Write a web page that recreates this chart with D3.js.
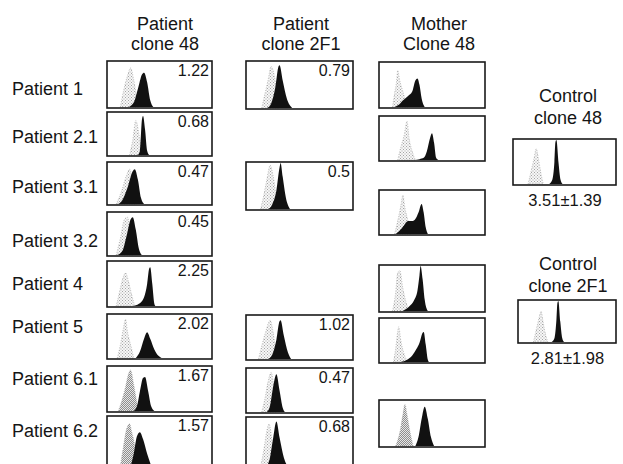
<!DOCTYPE html>
<html>
<head>
<meta charset="utf-8">
<script src="https://cdn.jsdelivr.net/npm/d3@7"></script>
<style>
  body { margin: 0; background: #fff; }
  svg { display: block; }
  text { font-family: "Liberation Sans", Arial, sans-serif; fill: #151515; }
</style>
</head>
<body>
<div id="chart"></div>
<script>
// row labels and column headers
const rowLabels = ["Patient 1", "Patient 2.1", "Patient 3.1", "Patient 3.2",
                   "Patient 4", "Patient 5", "Patient 6.1", "Patient 6.2"];
const columnHeaders = [["Patient", "clone 48"], ["Patient", "clone 2F1"], ["Mother", "Clone 48"]];
const controlHeaders = [["Control", "clone 48"], ["Control", "clone 2F1"]];

// ratio printed in each box (null = no box)
const clone48Ratios = ["1.22", "0.68", "0.47", "0.45", "2.25", "2.02", "1.67", "1.57"];
const clone2F1Ratios = ["0.79", null, "0.5", null, null, "1.02", "0.47", "0.68"];
const controlStats = ["3.51\u00b11.39", "2.81\u00b11.98"];

// histograms: [channel (0-100), relative count (0-1)]
// gray = isotype control, black = stained
const clone48Gray = [
  [[12,0],[15,0.35],[19,0.7],[22,0.87],[25,0.6],[28,0.2],[31,0]],
  [[21,0],[24,0.35],[27,0.82],[30,0.5],[33,0]],
  [[8,0],[13,0.3],[18,0.7],[21,0.85],[24,0.5],[28,0]],
  [[8,0],[12,0.4],[16,0.85],[19,0.9],[22,0.4],[25,0]],
  [[8,0],[11,0.3],[14,0.6],[17,0.75],[20,0.55],[23,0.25],[26,0]],
  [[9,0],[12,0.3],[15,0.7],[17,0.9],[19,0.6],[22,0.3],[25,0]],
  [[10,0],[13,0.2],[17,0.55],[20,0.85],[22,0.93],[25,0.6],[28,0.2],[30,0]],
  [[12,0],[15,0.4],[18,0.75],[21,0.86],[23,0.7],[26,0.4],[28,0]]
];
const clone48Black = [
  [[20,0],[25,0.1],[29,0.4],[33,0.72],[35,0.76],[38,0.55],[41,0.15],[44,0]],
  [[29,0],[31,0.1],[33,0.85],[34,0.93],[36,0.6],[38,0.1],[40,0]],
  [[10,0],[14,0.1],[19,0.4],[24,0.8],[26,0.85],[29,0.6],[32,0.15],[35,0]],
  [[9,0],[14,0.1],[18,0.45],[22,0.85],[24,0.9],[27,0.6],[30,0.15],[33,0]],
  [[24,0],[30,0.05],[35,0.2],[38,0.5],[40,0.85],[41,0.88],[43,0.5],[45,0.05],[46,0]],
  [[27,0],[31,0.15],[35,0.45],[38,0.6],[41,0.45],[45,0.2],[49,0.05],[52,0]],
  [[25,0],[28,0.1],[31,0.45],[34,0.75],[36,0.77],[39,0.45],[42,0.1],[45,0]],
  [[22,0],[25,0.25],[28,0.6],[31,0.69],[34,0.55],[38,0.25],[42,0]]
];
const clone2F1Gray = [
  [[14,0],[17,0.3],[20,0.6],[23,0.9],[26,0.7],[30,0]],
  null,
  [[13,0],[16,0.3],[19,0.65],[22,0.95],[25,0.7],[29,0]],
  null,
  null,
  [[11,0],[14,0.3],[18,0.65],[22,0.9],[25,0.6],[28,0]],
  [[14,0],[17,0.3],[20,0.7],[23,0.92],[26,0.5],[29,0]],
  [[13,0],[16,0.35],[19,0.75],[21,0.88],[24,0.5],[27,0]]
];
const clone2F1Black = [
  [[19,0],[23,0.1],[27,0.45],[30,0.9],[31,0.93],[34,0.6],[38,0.2],[43,0]],
  null,
  [[20,0],[24,0.1],[28,0.4],[31,0.9],[32,1.0],[34,0.7],[37,0.25],[41,0]],
  null,
  null,
  [[20,0],[24,0.1],[28,0.45],[31,0.88],[32,0.9],[35,0.55],[39,0.15],[42,0]],
  [[19,0],[22,0.15],[25,0.6],[28,0.88],[31,0.5],[34,0.1],[36,0]],
  [[18,0],[22,0.2],[25,0.6],[28,0.93],[31,0.6],[35,0.2],[39,0]]
];
const motherGray = [
  [[12,0],[14,0.3],[16,0.6],[17,0.83],[19,0.6],[22,0.35],[25,0.1],[27,0]],
  [[17,0],[20,0.3],[23,0.55],[26,0.9],[28,0.5],[31,0.2],[34,0]],
  [[14,0],[17,0.3],[20,0.65],[22,0.9],[24,0.6],[27,0.3],[30,0]],
  [[12,0],[15,0.4],[17,0.85],[19,0.9],[22,0.5],[25,0.2],[28,0]],
  [[13,0],[15,0.3],[17,0.7],[18,0.82],[20,0.5],[23,0.2],[27,0]],
  [[15,0],[19,0.3],[22,0.7],[24,0.93],[26,0.7],[29,0.3],[32,0]]
];
const motherBlack = [
  [[14,0],[18,0.05],[22,0.15],[27,0.25],[31,0.35],[34,0.6],[36,0.65],[38,0.5],[40,0.2],[43,0]],
  [[33,0],[38,0.02],[42,0.05],[45,0.2],[48,0.5],[50,0.62],[52,0.4],[54,0.05],[56,0]],
  [[15,0],[19,0.08],[23,0.2],[27,0.3],[31,0.3],[34,0.35],[37,0.5],[40,0.7],[42,0.5],[44,0.15],[46,0]],
  [[22,0],[28,0.1],[33,0.25],[36,0.45],[38,0.8],[39,1.0],[41,0.7],[43,0.25],[46,0]],
  [[20,0],[26,0.05],[31,0.15],[35,0.3],[38,0.45],[41,0.68],[42,0.7],[44,0.4],[46,0.05],[47,0]],
  [[34,0],[37,0.2],[40,0.6],[43,0.87],[46,0.6],[49,0.2],[52,0]]
];
const controlGray = [
  [[14,0],[17,0.3],[20,0.6],[22,0.8],[24,0.6],[27,0.2],[29,0]],
  [[15,0],[18,0.3],[21,0.6],[23,0.75],[25,0.5],[28,0.15],[30,0]]
];
const controlBlack = [
  [[35,0],[38,0.1],[40,0.5],[41,0.95],[42,1.0],[44,0.5],[46,0.1],[48,0]],
  [[34,0],[37,0.1],[39,0.55],[40,0.95],[41,1.0],[43,0.5],[45,0.1],[47,0]]
];

// ---- layout (pixels) ----
const W = 623, H = 464;
const col1 = { x: 107, w: 105, tops: [61, 112, 162, 212, 261, 314, 366, 416], hs: [47, 44, 43, 44, 46, 45, 46, 51] };
const col2 = { x: 246, w: 107, tops: [61, null, 162, null, null, 315, 368, 417], hs: [48, 0, 48, 0, 0, 45, 45, 51] };
const col3 = { x: 379, w: 106, tops: [62, 116, 190, 265, 318, 400], hs: [46, 45, 45, 47, 45, 47] };
const ctrl = [{ x: 513, y: 139, w: 103, h: 46 }, { x: 518, y: 300, w: 98, h: 43 }];
const rowBaselines = [95, 143, 193, 247, 290, 333, 385, 437];
const headerX = [165, 301, 439];
const dense = { "c1-6": true, "c1-7": true, "c3-5": true };

const svg = d3.select("#chart").append("svg")
  .attr("width", W).attr("height", H);

// stipple patterns for gray histograms
const defs = svg.append("defs");
function stipple(id, step, color, bg) {
  const p = defs.append("pattern").attr("id", id)
    .attr("width", step).attr("height", step)
    .attr("patternUnits", "userSpaceOnUse");
  p.append("rect").attr("width", step).attr("height", step).attr("fill", bg);
  p.append("rect").attr("x", 0).attr("y", 0).attr("width", 1).attr("height", 1).attr("fill", color);
  p.append("rect").attr("x", step / 2).attr("y", step / 2).attr("width", 1).attr("height", 1).attr("fill", color);
}
stipple("dots", 3, "#a5a5a5", "#f7f7f7");
stipple("dotsDense", 2, "#8e8e8e", "#e6e6e6");

function drawPanel(x, y, w, h, gray, black, label, isDense) {
  const g = svg.append("g").attr("transform", `translate(${x},${y})`);
  const xs = d3.scaleLinear().domain([0, 100]).range([1, w - 1]);
  const ys = d3.scaleLinear().domain([0, 1]).range([h - 1, 1]);
  const area = d3.area()
    .x(d => xs(d[0])).y0(ys(0)).y1(d => ys(d[1]))
    .curve(d3.curveMonotoneX);

  g.append("rect").attr("width", w).attr("height", h).attr("fill", "#fff");
  if (gray) {
    g.append("path").datum(gray).attr("d", area)
      .attr("fill", isDense ? "url(#dotsDense)" : "url(#dots)")
      .attr("stroke", "#b3b3b3").attr("stroke-width", 0.8)
      .attr("stroke-dasharray", "1,1.5");
  }
  if (black) {
    g.append("path").datum(black).attr("d", area).attr("fill", "#111");
  }
  g.append("rect").attr("width", w).attr("height", h)
    .attr("fill", "none").attr("stroke", "#1a1a1a").attr("stroke-width", 1.6);
  if (label) {
    g.append("text").attr("x", w - 3).attr("y", 15)
      .attr("text-anchor", "end").attr("font-size", 16).text(label);
  }
}

// column headers
columnHeaders.forEach((lines, i) => {
  lines.forEach((t, j) => {
    svg.append("text").attr("x", headerX[i]).attr("y", 30 + j * 20)
      .attr("text-anchor", "middle").attr("font-size", 18).text(t);
  });
});

// row labels
rowLabels.forEach((t, i) => {
  svg.append("text").attr("x", 12).attr("y", rowBaselines[i])
    .attr("font-size", 18).text(t);
});

// patient clone 48
rowLabels.forEach((_, i) => {
  drawPanel(col1.x, col1.tops[i], col1.w, col1.hs[i],
    clone48Gray[i], clone48Black[i], clone48Ratios[i], dense["c1-" + i]);
});

// patient clone 2F1
rowLabels.forEach((_, i) => {
  if (clone2F1Ratios[i] === null) return;
  drawPanel(col2.x, col2.tops[i], col2.w, col2.hs[i],
    clone2F1Gray[i], clone2F1Black[i], clone2F1Ratios[i], false);
});

// mother clone 48
motherBlack.forEach((b, i) => {
  drawPanel(col3.x, col3.tops[i], col3.w, col3.hs[i],
    motherGray[i], b, null, dense["c3-" + i]);
});

// controls
const ctrlHeaderY = [[102, 124], [270, 292]];
controlHeaders.forEach((lines, i) => {
  lines.forEach((t, j) => {
    svg.append("text").attr("x", 568).attr("y", ctrlHeaderY[i][j])
      .attr("text-anchor", "middle").attr("font-size", 18).text(t);
  });
  const c = ctrl[i];
  drawPanel(c.x, c.y, c.w, c.h, controlGray[i], controlBlack[i], null, false);
  svg.append("text").attr("x", c.x + c.w / 2 + 0.5).attr("y", c.y + c.h + 21)
    .attr("text-anchor", "middle").attr("font-size", 16.5).text(controlStats[i]);
});
</script>
</body>
</html>
